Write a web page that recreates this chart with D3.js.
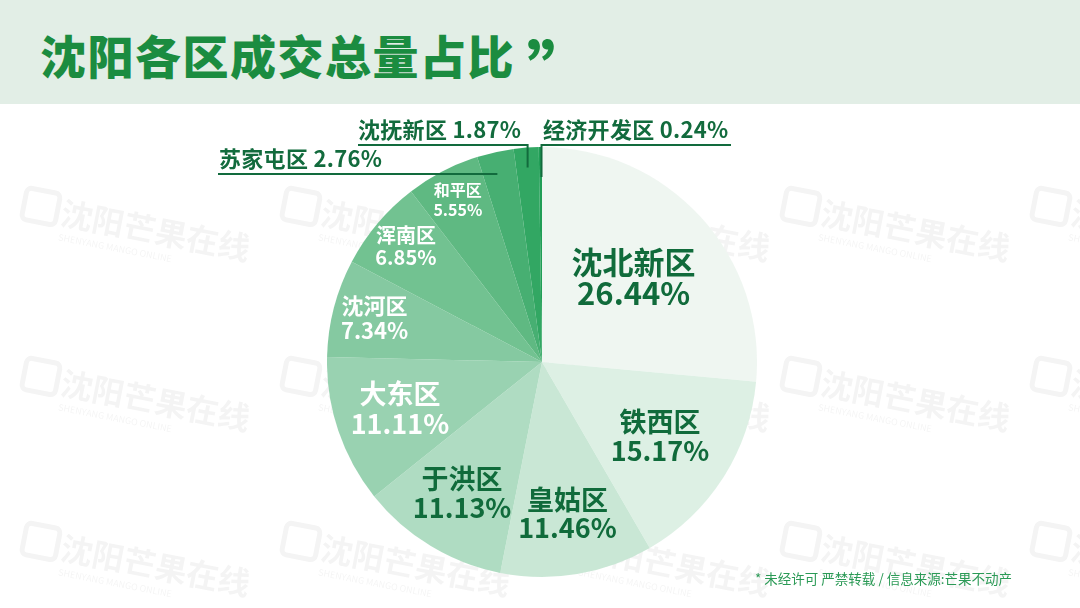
<!DOCTYPE html>
<html><head><meta charset="utf-8">
<script src="https://cdn.jsdelivr.net/npm/d3@7/dist/d3.min.js"></script>
<style>
html,body{margin:0;padding:0;background:#fff;}
svg{display:block;font-family:"Noto Sans CJK SC","Noto Sans",sans-serif;}
</style></head>
<body><svg id="c" width="1080" height="608"></svg>
<script>
// ---- data ----
const districts = ["沈北新区","铁西区","皇姑区","于洪区","大东区","沈河区","浑南区","和平区","苏家屯区","沈抚新区","经济开发区"];
const shares = [26.44,15.17,11.46,11.13,11.11,7.34,6.85,5.55,2.76,1.87,0.24];
const titleText = "沈阳各区成交总量占比";
const footnote = "* 未经许可 严禁转载 / 信息来源:芒果不动产";
const watermarkText = "沈阳芒果在线";
const watermarkSub = "SHENYANG MANGO ONLINE";

// ---- styles ----
const sliceColors = ["#eef6f0","#dcefe3","#c7e6d3","#acdbbf","#95d0ae","#80c79d","#6cbf8d","#58b67d","#40ac6c","#2aa35d","#179a4f"];
const labelRadius = [124,140,155,154,150,173,178,182];
const labelSize = [31,27,27,27,27,22,20,16];
const labelGap = [31,29,28,29,30,25,22,20];
const labelDark = [true,true,true,true,false,false,false,false];

const svg = d3.select("#c");
const W = 1080, H = 608;

// header band
svg.append("rect").attr("x",0).attr("y",0).attr("width",W).attr("height",104).attr("fill","#e2eee6");

// watermarks (faint)
const wm = svg.append("g").attr("opacity",0.045);
[[215,[22,282,542,782,1032]],[385,[22,282,542,782,1032]],[550,[22,282,542,782,1032]]].forEach(([y,xs])=>{
  xs.forEach(x=>{
    const gg = wm.append("g").attr("transform",`translate(${x},${y}) rotate(11)`);
    gg.append("rect").attr("x",0).attr("y",-28).attr("width",34).attr("height",32).attr("rx",5)
      .attr("fill","none").attr("stroke","#000").attr("stroke-width",5);
    gg.append("text").attr("x",38).attr("y",2).attr("font-size",32).attr("font-weight",700).attr("fill","#000").text(watermarkText);
    gg.append("text").attr("x",40).attr("y",18).attr("font-size",9).attr("fill","#000").text(watermarkSub);
  });
});

svg.append("text").attr("x",40).attr("y",74).attr("font-size",46).attr("font-weight",900)
  .attr("fill","#1b8c40").attr("letter-spacing",1.5).text(titleText);
svg.append("text").attr("x",527).attr("y",96).attr("font-size",66).attr("font-weight",900)
  .attr("fill","#1b8c40").text("\u201D");

// pie
const cx = 542, cy = 362, R = 215;
const pie = d3.pie().sort(null).value(d=>d)(shares);
const arc = d3.arc().innerRadius(0).outerRadius(R);
const g = svg.append("g").attr("transform",`translate(${cx},${cy})`);
g.selectAll("path").data(pie).join("path").attr("d",arc)
  .attr("fill",(d,i)=>sliceColors[i]).attr("fill-opacity",0.96);

// inner labels
pie.slice(0,8).forEach((d,i)=>{
  const a = (d.startAngle+d.endAngle)/2;
  const r = labelRadius[i];
  const x = Math.sin(a)*r, y = -Math.cos(a)*r;
  const col = labelDark[i] ? "#106b3b" : "#ffffff";
  const t = g.append("text").attr("text-anchor","middle").attr("font-weight",700)
    .attr("font-size",labelSize[i]).attr("fill",col);
  t.append("tspan").attr("x",x).attr("y",y - labelGap[i]*0.5 + labelSize[i]*0.35).text(districts[i]);
  t.append("tspan").attr("x",x).attr("y",y + labelGap[i]*0.5 + labelSize[i]*0.35).text(d3.format(".2f")(shares[i])+"%");
});

// callouts for small slices
const lineCol = "#126b3d";
const co = svg.append("g");
function angPt(a, r){ return [cx+Math.sin(a)*r, cy-Math.cos(a)*r]; }
function callText(x, y, i){
  co.append("text").attr("x",x).attr("y",y).attr("font-size",22).attr("font-weight",700)
    .attr("letter-spacing",0.3).attr("fill",lineCol)
    .text(districts[i]+" "+d3.format(".2f")(shares[i])+"%");
}
// 苏家屯区
{
  const d = pie[8]; const a=(d.startAngle+d.endAngle)/2; const p = angPt(a, R-10);
  co.append("polyline").attr("points",`218,174 ${p[0]},174`).attr("fill","none").attr("stroke",lineCol).attr("stroke-width",2);
  callText(219, 167, 8);
}
// 沈抚新区
{
  const d = pie[9]; const a=(d.startAngle+d.endAngle)/2; const p = angPt(a, R-20);
  co.append("polyline").attr("points",`358,145 ${p[0]},145 ${p[0]},${p[1]}`).attr("fill","none").attr("stroke",lineCol).attr("stroke-width",2);
  callText(358, 138, 9);
}
// 经济开发区
{
  const d = pie[10]; const a=d.endAngle; const p = angPt(a, R-30);
  co.append("polyline").attr("points",`731,145 ${p[0]-0.5},145 ${p[0]-0.5},${p[1]}`).attr("fill","none").attr("stroke",lineCol).attr("stroke-width",2);
  callText(543, 138, 10);
}

// footnote
svg.append("text").attr("x",755).attr("y",584).attr("font-size",13.5).attr("fill","#2b9a56").text(footnote);
</script></body></html>
